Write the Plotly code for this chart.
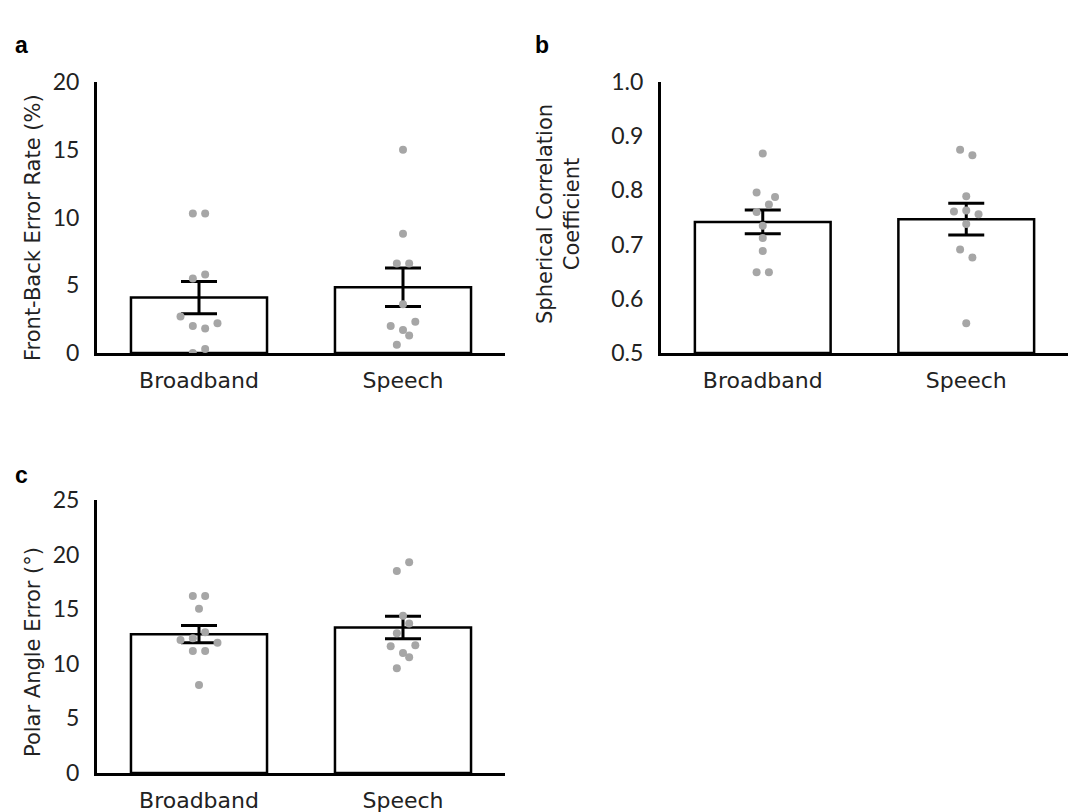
import numpy as np
import plotly.graph_objects as go

categories = ["Broadband", "Speech"]

# Panel a: Front-Back Error Rate (%)
fb_broadband = [10.3, 10.3, 5.5, 5.8, 2.7, 2.0, 1.8, 2.2, 0.0, 0.3]
fb_speech = [15.0, 8.8, 6.6, 6.6, 3.6, 2.0, 2.3, 1.7, 1.3, 0.6]

# Panel b: Spherical Correlation Coefficient
sc_broadband = [0.868, 0.796, 0.788, 0.774, 0.760, 0.735, 0.712, 0.688, 0.649, 0.649]
sc_speech = [0.875, 0.865, 0.789, 0.761, 0.763, 0.756, 0.738, 0.691, 0.676, 0.555]

# Panel c: Polar Angle Error (deg)
pa_broadband = [16.2, 16.2, 15.05, 12.88, 12.18, 12.33, 11.93, 11.17, 11.17, 8.06]
pa_speech = [19.3, 18.5, 14.4, 13.7, 12.8, 11.6, 11.7, 11.0, 10.6, 9.6]

# beeswarm slot indices for the dots (style, not data)
fb_b_slot = [-1, 1, -1, 1, -3, -1, 1, 3, -1, 1]
fb_s_slot = [0, 0, -1, 1, 0, -2, 2, 0, 1, -1]
sc_b_slot = [0, -1, 2, 1, -1, 0, 0, 0, -1, 1]
sc_s_slot = [-1, 1, 0, -2, 0, 2, 0, -1, 1, 0]
pa_b_slot = [-1, 1, 0, 1, -3, -1, 3, -1, 1, 0]
pa_s_slot = [1, -1, 0, 1, -1, -2, 2, 0, 1, -1]

# page has an 8px body margin: figure is offset, coordinates shifted
OFF = 8
W, H = 1077 - OFF, 812 - OFF
SLOT = 0.0302  # category units per half-dot step


def px(x):
    return (x - OFF) / W


def py(y):
    return 1 - (y - OFF) / H


fig = go.Figure()

panels = [
    ("x", "y", [fb_broadband, fb_speech], [fb_b_slot, fb_s_slot], None),
    ("x2", "y2", [sc_broadband, sc_speech], [sc_b_slot, sc_s_slot], 0.5),
    ("x3", "y3", [pa_broadband, pa_speech], [pa_b_slot, pa_s_slot], None),
]

for xa, ya, groups, slots, base in panels:
    means = [float(np.mean(g)) for g in groups]
    sems = [float(np.std(g, ddof=1) / np.sqrt(len(g))) for g in groups]
    fig.add_trace(go.Bar(
        x=[0, 1], y=[m - (base or 0) for m in means], base=base,
        width=0.667, xaxis=xa, yaxis=ya,
        marker=dict(color="white", line=dict(color="black", width=2.5)),
        error_y=dict(type="data", array=sems, visible=True, color="black",
                     thickness=3, width=18),
        showlegend=False, hoverinfo="skip",
    ))
    for i, (g, s) in enumerate(zip(groups, slots)):
        fig.add_trace(go.Scatter(
            x=[i + k * SLOT for k in s], y=g, mode="markers",
            xaxis=xa, yaxis=ya,
            marker=dict(color="#a6a6a6", size=8),
            showlegend=False, hoverinfo="skip",
        ))

xtickfont = dict(family="DejaVu Sans", size=22, color="#222222")
ytickfont = dict(family="Lato", size=23, color="#222222")


def xaxis(dom, anchor):
    return dict(domain=dom, range=[-0.5, 1.5], tickvals=[0, 1], ticktext=categories,
                showline=True, linecolor="black", linewidth=3, ticks="",
                showgrid=False, zeroline=False, tickfont=xtickfont, anchor=anchor,
                ticklabelstandoff=6, fixedrange=True, automargin=False)


def yaxis(dom, rng, dtick, fmt, anchor):
    return dict(domain=dom, range=rng, dtick=dtick, tick0=rng[0], tickformat=fmt,
                showline=True, linecolor="black", linewidth=3, ticks="",
                showgrid=False, zeroline=False, tickfont=ytickfont, anchor=anchor,
                ticklabelstandoff=10, fixedrange=True, automargin=False)


dom_a_x = [px(97), px(505)]
dom_b_x = [px(661), px(1068)]
dom_top = [py(353), py(82)]
dom_bot = [py(773), py(500)]

fig.update_layout(
    width=W, height=H,
    margin=dict(l=0, r=0, t=0, b=0, pad=0),
    paper_bgcolor="white", plot_bgcolor="white",
    xaxis=xaxis(dom_a_x, "y"),
    yaxis=yaxis(dom_top, [0, 20], 5, "d", "x"),
    xaxis2=xaxis(dom_b_x, "y2"),
    yaxis2=yaxis(dom_top, [0.5, 1.0], 0.1, ".1f", "x2"),
    xaxis3=xaxis(dom_a_x, "y3"),
    yaxis3=yaxis(dom_bot, [0, 25], 5, "d", "x3"),
    barmode="overlay",
)

titlefont = dict(family="DejaVu Sans", size=21, color="#222222")
ann = [
    dict(x=px(33), y=py(228), text="Front-Back Error Rate (%)", textangle=-90, font=titlefont),
    dict(x=px(558), y=py(214), text="Spherical Correlation<br>Coefficient", textangle=-90, font=titlefont),
    dict(x=px(33), y=py(652), text="Polar Angle Error (°)", textangle=-90, font=titlefont),
]
letterfont = dict(family="Liberation Sans", size=23, color="black")
for t, xx, yy in [("<b>a</b>", 21, 45), ("<b>b</b>", 542, 45), ("<b>c</b>", 21, 475)]:
    ann.append(dict(x=px(xx), y=py(yy), text=t, font=letterfont))
for a in ann:
    a.update(xref="paper", yref="paper", showarrow=False, xanchor="center", yanchor="middle")
fig.update_layout(annotations=ann)

fig.write_html("out.html")
